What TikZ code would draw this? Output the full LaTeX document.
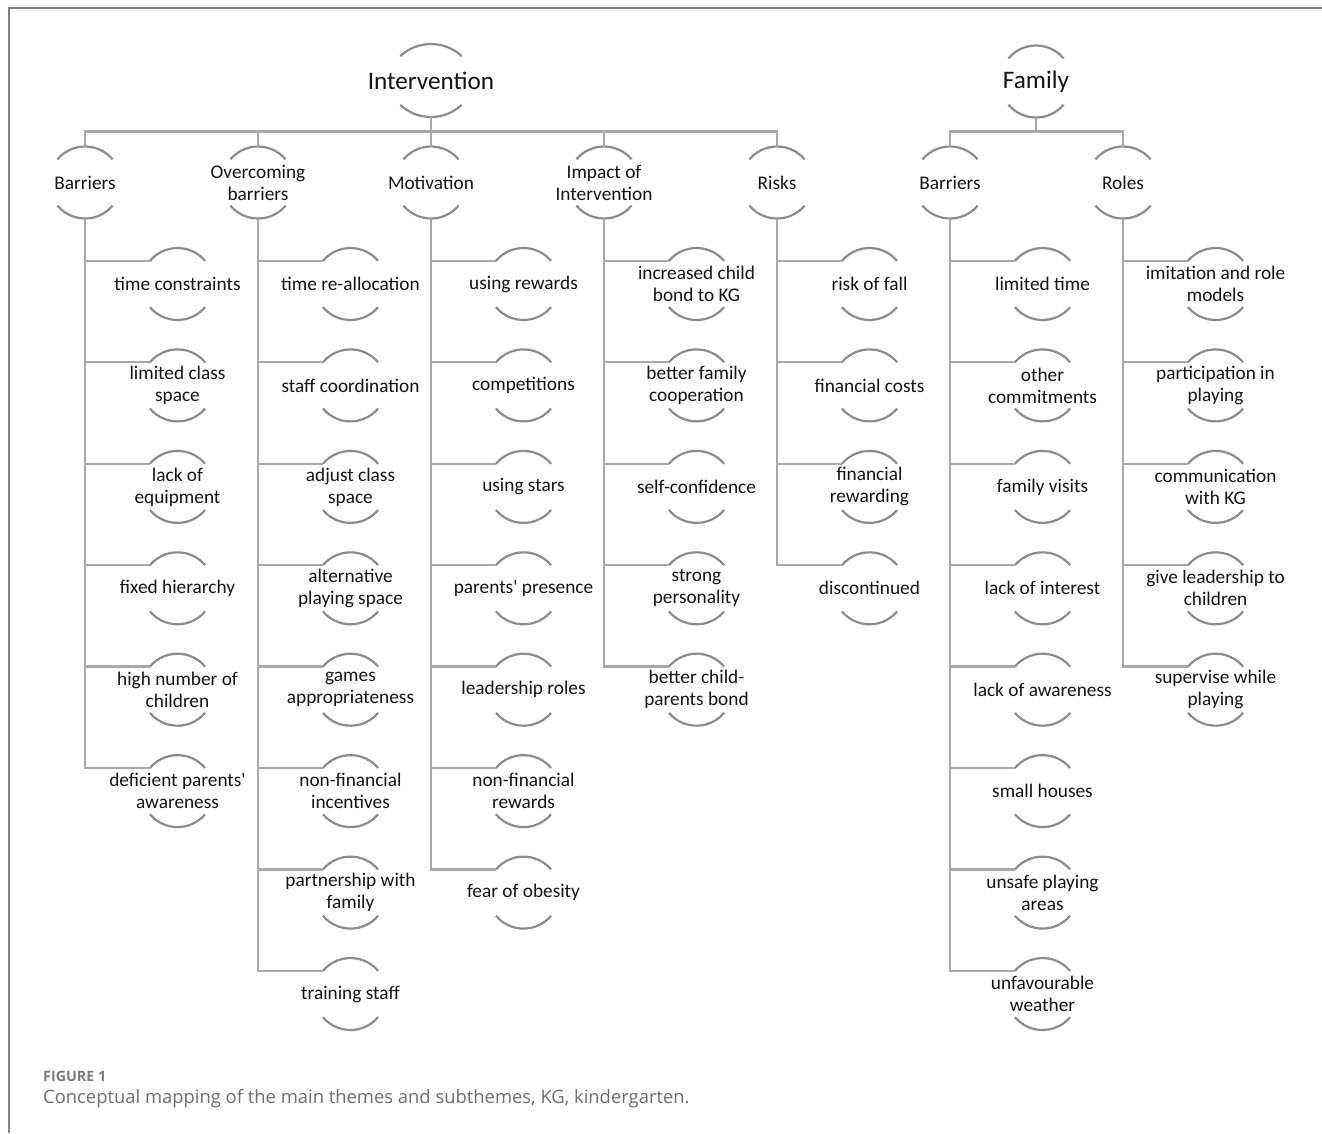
\documentclass[tikz,border=0pt]{standalone}
\usepackage{fontspec}
\setmainfont{Carlito}
\newfontfamily\capfont{Open Sans}
\usetikzlibrary{calc}
\definecolor{linec}{HTML}{A8A8A8}
\definecolor{arcc}{HTML}{8C8C8C}
\definecolor{txt}{HTML}{141414}
\definecolor{framec}{HTML}{808080}
\definecolor{capc}{HTML}{6E6E6E}
\definecolor{capb}{HTML}{7A7A7A}
\tikzset{
  lbl/.style={align=center, font=\fontsize{19.3}{22}\selectfont, text=txt, inner sep=0pt},
  big/.style={align=center, font=\fontsize{25.2}{28}\selectfont, text=txt, inner sep=0pt},
  arcst/.style={draw=arcc, line width=2.2pt},
  conn/.style={draw=linec, line width=2.2pt},
  framest/.style={draw=framec, line width=1.4pt},
}
\newcommand\apos{\textquotesingle}
\newcommand\bubble[5][lbl]{%
  \coordinate (#2-c) at (#3,-#4);
  \node[#1] (#2) at (#2-c) {#5};
  \coordinate (#2-t) at ($(#2-c)+(0,36)$);
  \coordinate (#2-b) at ($(#2-c)+(0,-36)$);
  \coordinate (#2-l) at ($(#2-c)+(140:36)$);
  \draw[arcst] (#2-l) arc[start angle=140,end angle=40,radius=36];
  \draw[arcst] ($(#2-c)+(220:36)$) arc[start angle=220,end angle=320,radius=36];
}
\begin{document}
\begin{tikzpicture}[x=1pt,y=1pt]
\useasboundingbox (0,0) rectangle (1322,-1133);
\fill[white] (0,0) rectangle (1322,-1133);
\draw[framest] (9,-1133) -- (9,-8) -- (1322,-8);

% rows
\def\ra{284}\def\rb{385.4}\def\rc{486.9}\def\rd{588.3}
\def\re{689.7}\def\rf{791.1}\def\rg{892.6}\def\rh{994}

% Intervention (flatter arcs)
\coordinate (int-c) at (431,-80.5);
\node[big] (int) at (int-c) {Intervention};
\coordinate (int-b) at ($(int-c)+(0,-36.5)$);
\draw[arcst] ($(int-c)+(-30.7,24.4)$) arc[start angle=133,end angle=47,radius=45];
\draw[arcst] ($(int-c)+(-30.7,-24.4)$) arc[start angle=227,end angle=313,radius=45];

\bubble[big]{fam}{1036}{81.5}{Family}

% level 1
\bubble{ib}{85}{182.5}{Barriers}
\bubble{iob}{258}{182.5}{Overcoming\\barriers}
\bubble{imo}{431}{182.5}{Motivation}
\bubble{iim}{604}{182.5}{Impact of\\Intervention}
\bubble{iri}{777}{182.5}{Risks}
\bubble{fb}{950}{182.5}{Barriers}
\bubble{fr}{1123}{182.5}{Roles}

\coordinate (ibar) at (431,-131.5);
\coordinate (fbar) at (1036,-131.5);
\draw[conn] (int-b) -- (ibar);
\foreach \n in {ib,iob,imo,iim,iri} {\draw[conn] (ibar) -| (\n-t);}
\draw[conn] (fam-b) -- (fbar);
\foreach \n in {fb,fr} {\draw[conn] (fbar) -| (\n-t);}

% Intervention / Barriers
\bubble{ib1}{177.5}{\ra}{time constraints}
\bubble{ib2}{177.5}{\rb}{limited class\\space}
\bubble{ib3}{177.5}{\rc}{lack of\\equipment}
\bubble{ib4}{177.5}{\rd}{fixed hierarchy}
\bubble{ib5}{177.5}{\re}{high number of\\children}
\bubble{ib6}{177.5}{\rf}{deficient parents\apos\\awareness}
\foreach \n in {ib1,ib2,ib3,ib4,ib5,ib6} {\draw[conn] (ib-b) |- (\n-l);}

% Overcoming barriers
\bubble{iob1}{350.5}{\ra}{time re-allocation}
\bubble{iob2}{350.5}{\rb}{staff coordination}
\bubble{iob3}{350.5}{\rc}{adjust class\\space}
\bubble{iob4}{350.5}{\rd}{alternative\\playing space}
\bubble{iob5}{350.5}{\re}{games\\appropriateness}
\bubble{iob6}{350.5}{\rf}{non-financial\\incentives}
\bubble{iob7}{350.5}{\rg}{partnership with\\family}
\bubble{iob8}{350.5}{\rh}{training staff}
\foreach \n in {iob1,iob2,iob3,iob4,iob5,iob6,iob7,iob8} {\draw[conn] (iob-b) |- (\n-l);}

% Motivation
\bubble{imo1}{523.5}{\ra}{using rewards}
\bubble{imo2}{523.5}{\rb}{competitions}
\bubble{imo3}{523.5}{\rc}{using stars}
\bubble{imo4}{523.5}{\rd}{parents\apos{} presence}
\bubble{imo5}{523.5}{\re}{leadership roles}
\bubble{imo6}{523.5}{\rf}{non-financial\\rewards}
\bubble{imo7}{523.5}{\rg}{fear of obesity}
\foreach \n in {imo1,imo2,imo3,imo4,imo5,imo6,imo7} {\draw[conn] (imo-b) |- (\n-l);}

% Impact of Intervention
\bubble{iim1}{696.5}{\ra}{increased child\\bond to KG}
\bubble{iim2}{696.5}{\rb}{better family\\cooperation}
\bubble{iim3}{696.5}{\rc}{self-confidence}
\bubble{iim4}{696.5}{\rd}{strong\\personality}
\bubble{iim5}{696.5}{\re}{better child-\\parents bond}
\foreach \n in {iim1,iim2,iim3,iim4,iim5} {\draw[conn] (iim-b) |- (\n-l);}

% Risks
\bubble{iri1}{869.5}{\ra}{risk of fall}
\bubble{iri2}{869.5}{\rb}{financial costs}
\bubble{iri3}{869.5}{\rc}{financial\\rewarding}
\bubble{iri4}{869.5}{\rd}{discontinued}
\foreach \n in {iri1,iri2,iri3,iri4} {\draw[conn] (iri-b) |- (\n-l);}

% Family / Barriers
\bubble{fb1}{1042.5}{\ra}{limited time}
\bubble{fb2}{1042.5}{\rb}{other\\commitments}
\bubble{fb3}{1042.5}{\rc}{family visits}
\bubble{fb4}{1042.5}{\rd}{lack of interest}
\bubble{fb5}{1042.5}{\re}{lack of awareness}
\bubble{fb6}{1042.5}{\rf}{small houses}
\bubble{fb7}{1042.5}{\rg}{unsafe playing\\areas}
\bubble{fb8}{1042.5}{\rh}{unfavourable\\weather}
\foreach \n in {fb1,fb2,fb3,fb4,fb5,fb6,fb7,fb8} {\draw[conn] (fb-b) |- (\n-l);}

% Roles
\bubble{fr1}{1215.5}{\ra}{imitation and role\\models}
\bubble{fr2}{1215.5}{\rb}{participation in\\playing}
\bubble{fr3}{1215.5}{\rc}{communication\\with KG}
\bubble{fr4}{1215.5}{\rd}{give leadership to\\children}
\bubble{fr5}{1215.5}{\re}{supervise while\\playing}
\foreach \n in {fr1,fr2,fr3,fr4,fr5} {\draw[conn] (fr-b) |- (\n-l);}

% caption
\node[anchor=west, inner sep=0pt, text=capb, font=\capfont\bfseries\fontsize{14.3}{16}\selectfont] (figlbl) at (43,-1076) {FIGURE 1};
\node[anchor=west, inner sep=0pt, text=capc, font=\capfont\fontsize{18.4}{21}\selectfont] (figcap) at (43,-1099) {Conceptual mapping of the main themes and subthemes, KG, kindergarten.};
\end{tikzpicture}
\end{document}
